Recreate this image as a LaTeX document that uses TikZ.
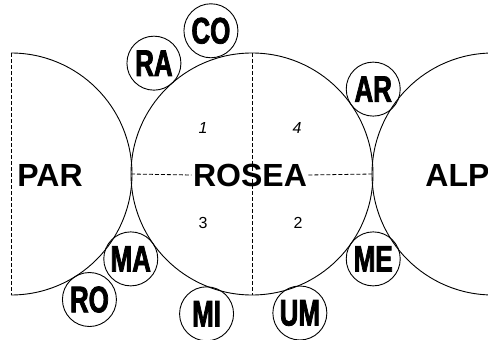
\documentclass[tikz,border=0pt]{standalone}
\usepackage{fontspec}
\setmainfont{Liberation Sans}
\newfontfamily\condfont[FakeStretch=0.7,BoldFeatures={FakeBold=2}]{Liberation Sans}
\usepackage{tikz}
\usetikzlibrary{positioning,calc}
\newcommand{\fieldname}[1]{{\fontsize{32}{32}\selectfont\bfseries #1}}
\newcommand{\quadnum}[1]{{\fontsize{16}{16}\selectfont #1}}

\begin{document}
\begin{tikzpicture}[x=1pt,y=1pt,line width=0.9pt,
    zone/.style={draw=none,inner sep=1pt},
    tag/.style={draw,circle,minimum size=54pt,inner sep=0pt,
      font=\fontsize{37}{37}\selectfont\condfont\bfseries},
    split/.style={dash pattern=on 4pt off 2pt,line width=0.8pt}]
  \useasboundingbox (0,0) rectangle (488,-340);
  \clip (0,0) rectangle (488,-340);
  \coordinate (parC) at (11,-174);
  \coordinate (rosC) at (252,-174);
  \coordinate (alpC) at (493,-174);
  % main fields
  \draw ($(parC)+(0,121)$) arc[start angle=90,end angle=-90,radius=121];
  \draw[split] ($(parC)+(0,121)$) -- ($(parC)+(0,-121)$);
  \draw (rosC) circle[radius=121];
  \draw (alpC) circle[radius=121];
  \node[zone] (rosea) at (250,-175) {\fieldname{ROSEA}};
  \node[zone, anchor=west] (par) at (16,-175) {\fieldname{PAR}};
  \node[zone, anchor=west] (alp) at (424,-175) {\fieldname{ALP}};
  \coordinate (rosN) at ($(rosC)+(0,121)$);
  \coordinate (rosS) at ($(rosC)+(0,-121)$);
  \coordinate (rosW) at ($(rosC)+(-121,0)$);
  \coordinate (rosE) at ($(rosC)+(121,0)$);
  \draw[split] (rosN) -- (rosS);
  \draw[split] (rosW) -- (rosea.west);
  \draw[split] (rosea.east) -- (rosE);
  \node (q1) at (203,-128) {\quadnum{\itshape 1}};
  \node (q4) at (297,-128) {\quadnum{\itshape 4}};
  \node (q3) at (203,-223) {\quadnum{3}};
  \node (q2) at (298,-223) {\quadnum{2}};
  % tangent circles
  \node[tag] (ra) at ($(rosC)+(131.5:148)$) {RA};
  \node[tag] (co) at ($(rosC)+(106:149)$) {CO};
  \node[tag] (ar) at ($(rosC)+(35:148)$) {AR};
  \node[tag] (ma) at ($(rosC)+(215:148)$) {MA};
  \node[tag] (me) at ($(rosC)+(-35:148)$) {ME};
  \node[tag] (mi) at ($(rosC)+(252:147)$) {MI};
  \node[tag] (um) at ($(rosC)+(289:147)$) {UM};
  \node[tag] (ro) at ($(parC)+(-58:148)$) {RO};
\end{tikzpicture}
\end{document}
